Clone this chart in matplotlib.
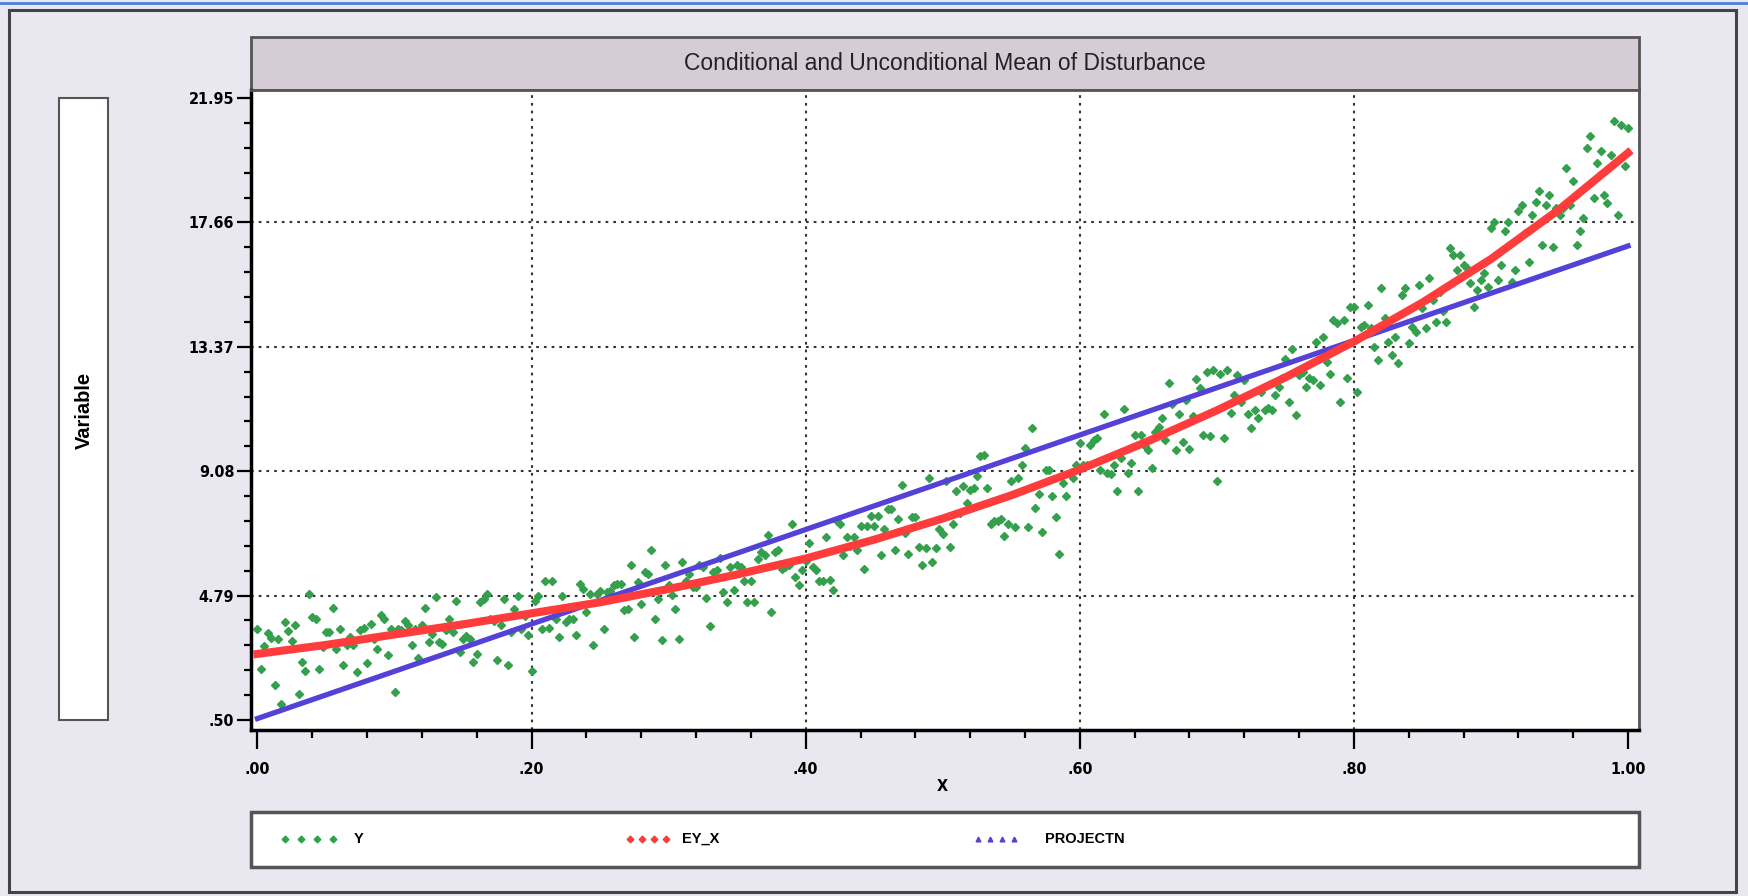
import numpy as np
import matplotlib
matplotlib.use('Agg')
import matplotlib.pyplot as plt
from matplotlib.patches import Rectangle
from matplotlib.lines import Line2D

# conditional mean E(Y|X), read on a 0.05 grid
ey_x_grid = [0.00, 0.05, 0.10, 0.15, 0.20, 0.25, 0.30, 0.35, 0.40, 0.45, 0.50,
             0.55, 0.60, 0.65, 0.70, 0.75, 0.80, 0.85, 0.90, 0.95, 1.00]
ey_x = [2.78, 3.09, 3.45, 3.80, 4.18, 4.56, 5.02, 5.52, 6.07, 6.72, 7.45,
        8.25, 9.14, 10.12, 11.18, 12.32, 13.55, 14.90, 16.40, 18.12, 20.06]

# linear projection
proj_grid = [0.0, 0.1, 0.2, 0.3, 0.4, 0.5, 0.6, 0.7, 0.8, 0.9, 1.0]
projectn = [0.55, 2.18, 3.81, 5.44, 7.07, 8.70, 10.33, 11.96, 13.59, 15.22, 16.85]

# observed Y, one row per 0.05 of X (x step .0025)
y_obs = [
    3.64, 2.26, 3.04, 3.50, 3.33, 1.69, 3.28, 1.05, 3.87, 3.56, 3.22, 3.79, 1.40, 2.50, 2.19, 4.85, 4.04, 3.99, 2.27, 3.01,
    3.53, 3.53, 4.35, 2.96, 3.65, 2.38, 3.07, 3.36, 3.07, 2.15, 3.59, 3.68, 2.46, 3.82, 3.30, 2.96, 4.11, 4.00, 2.73, 3.65,
    1.45, 3.65, 3.59, 3.93, 3.76, 3.07, 3.65, 2.65, 3.76, 4.37, 3.18, 3.45, 4.73, 3.18, 3.13, 3.59, 3.99, 3.53, 4.62, 2.84,
    3.30, 3.39, 3.28, 2.50, 2.79, 4.56, 4.68, 4.85, 4.00, 3.90, 2.56, 3.76, 4.68, 2.38, 3.55, 4.34, 4.79, 3.65, 4.10, 3.42,
    2.20, 4.62, 4.79, 3.65, 5.31, 3.67, 5.31, 4.00, 3.36, 4.79, 3.88, 4.00, 4.00, 3.42, 5.20, 5.02, 4.22, 4.85, 3.07, 4.85,
    4.96, 3.65, 4.90, 4.96, 5.14, 5.20, 5.20, 4.28, 4.33, 5.84, 3.38, 5.26, 4.50, 5.60, 5.54, 6.35, 3.98, 4.68, 3.27, 5.84,
    5.14, 4.80, 4.33, 3.29, 5.96, 5.30, 5.54, 5.08, 5.10, 5.84, 5.78, 4.70, 3.75, 5.60, 5.66, 6.10, 4.91, 4.56, 5.78, 5.00,
    5.85, 5.78, 5.30, 4.58, 5.30, 4.56, 6.07, 6.30, 6.18, 6.88, 4.23, 6.30, 6.36, 5.72, 5.78, 5.84, 7.26, 5.42, 5.14, 5.66,
    5.98, 6.59, 5.78, 5.66, 5.30, 5.30, 6.82, 5.32, 4.98, 7.38, 7.26, 6.20, 6.82, 6.50, 6.82, 6.36, 7.20, 5.72, 7.20, 7.55,
    7.20, 7.55, 6.18, 7.09, 7.78, 7.78, 6.36, 7.43, 8.62, 6.94, 6.24, 7.49, 7.49, 6.45, 5.84, 6.42, 8.85, 5.96, 6.42, 7.10,
    6.91, 8.74, 6.45, 7.25, 8.40, 7.65, 8.57, 8.00, 8.45, 8.51, 8.91, 9.59, 9.65, 8.51, 7.25, 7.37, 7.37, 7.43, 6.85, 7.25,
    8.74, 7.14, 8.86, 9.31, 9.88, 7.14, 10.57, 7.82, 8.30, 6.99, 9.14, 9.14, 8.22, 7.50, 6.22, 8.68, 8.22, 9.00, 8.86, 9.31,
    10.06, 9.31, 9.31, 9.99, 10.17, 10.22, 9.14, 11.06, 9.02, 8.97, 9.31, 8.40, 9.54, 11.23, 9.02, 9.37, 10.34, 8.40, 10.34, 9.94,
    9.82, 9.19, 10.45, 10.62, 10.90, 10.17, 12.14, 11.40, 9.82, 11.06, 10.08, 11.54, 9.85, 11.00, 12.26, 11.94, 10.34, 12.51, 10.28, 12.57,
    8.74, 12.45, 10.22, 12.57, 11.08, 11.71, 12.40, 11.48, 12.23, 11.06, 10.56, 11.20, 10.91, 11.82, 11.20, 11.26, 11.20, 11.71, 12.00, 12.28,
    12.96, 11.47, 13.31, 11.01, 12.39, 12.51, 11.99, 12.28, 12.22, 13.54, 12.05, 13.72, 12.86, 12.45, 14.30, 14.18, 11.47, 14.30, 12.28, 14.76,
    14.76, 11.82, 14.07, 14.13, 14.82, 14.01, 13.37, 12.91, 15.39, 14.36, 13.54, 13.08, 13.72, 12.80, 15.16, 15.39, 13.49, 14.07, 13.89, 15.51,
    14.70, 14.01, 15.74, 14.99, 14.24, 15.27, 14.59, 14.24, 16.77, 16.54, 16.02, 16.54, 16.19, 16.08, 15.56, 14.76, 15.33, 15.68, 15.91, 15.45,
    17.46, 17.69, 15.68, 16.19, 17.35, 17.69, 15.62, 16.02, 18.04, 18.27, 17.29, 16.31, 17.92, 18.38, 18.73, 16.89, 18.27, 18.61, 16.83, 18.15,
    17.92, 18.15, 19.54, 18.27, 19.08, 16.89, 17.35, 17.81, 20.23, 20.63, 18.50, 19.71, 20.11, 18.61, 18.32, 20.00, 21.16, 17.92, 21.04, 19.60, 20.92,
]
x_obs = np.linspace(0.0, 1.0, len(y_obs))

x_ticks = [0.0, 0.2, 0.4, 0.6, 0.8, 1.0]
x_labels = ['.00', '.20', '.40', '.60', '.80', '1.00']
y_ticks = [0.50, 4.79, 9.08, 13.37, 17.66, 21.95]
y_labels = ['.50', '4.79', '9.08', '13.37', '17.66', '21.95']

W, H = 1748, 896
BG = '#e9e7ef'
EDGE = '#555555'
GREEN = '#34a04d'
RED = '#ff3c3c'
BLUE = '#5442d8'
SANS = ['Liberation Sans', 'DejaVu Sans']


def fx(px):
    return px / W


def fy(py):
    return 1 - py / H


def box(x0, y0, x1, y1, fc, lw):
    fig.add_artist(Rectangle((fx(x0), fy(y1)), (x1 - x0) / W, (y1 - y0) / H,
                             transform=fig.transFigure, facecolor=fc,
                             edgecolor=EDGE, lw=lw, zorder=0))


fig = plt.figure(figsize=(W / 100, H / 100), dpi=100, facecolor=BG)

# window frame
fig.add_artist(Line2D([0, 1], [fy(3), fy(3)], transform=fig.transFigure,
                      color='#4a7fd6', lw=2))
fig.add_artist(Rectangle((fx(9), fy(892)), (1736 - 9) / W, (892 - 10) / H,
                         transform=fig.transFigure, fill=False,
                         edgecolor='#444444', lw=2.2))

box(251, 37, 1639, 90, '#d6ccd5', 2.0)     # title band
box(59, 98, 108, 720, 'white', 1.5)         # y label panel
box(251, 812, 1639, 867, 'white', 2.5)      # legend panel

fig.text(fx(945), fy(63), 'Conditional and Unconditional Mean of Disturbance',
         ha='center', va='center', fontsize=16.5, family=SANS, color='#222222')
fig.text(fx(84), fy(410), 'Variable', rotation=90, ha='center', va='center',
         fontsize=14.5, fontweight='bold', family=SANS)
fig.text(fx(942), fy(786), 'X', ha='center', va='center', fontsize=11.5,
         fontweight='bold', family='DejaVu Sans', fontstretch='condensed')

ax = fig.add_axes([fx(251), fy(730), (1639 - 251) / W, (730 - 90) / H])
ax.set_facecolor('white')

ax.plot(x_obs, y_obs, linestyle='none', marker='D', ms=3.6, color=GREEN,
        mec=GREEN, zorder=2)
ax.plot(proj_grid, projectn, color=BLUE, lw=3.8, zorder=3)
ax.plot(ey_x_grid, ey_x, color=RED, lw=5.8, zorder=4)

# dotted reference grid on the interior ticks
for v in x_ticks[1:-1]:
    ax.axvline(v, color='#333333', lw=1.5, ls=(0, (1.3, 2.4)), zorder=1)
for v in y_ticks[1:-1]:
    ax.axhline(v, color='#333333', lw=1.5, ls=(0, (1.3, 2.4)), zorder=1)

ax.set_xlim(-0.0047, 1.008)
ax.set_ylim(0.155, 22.23)
ax.set_xticks(x_ticks)
ax.set_xticklabels(x_labels)
ax.set_xticks(np.arange(0, 1.001, 0.04), minor=True)
ax.set_yticks(y_ticks)
ax.set_yticklabels(y_labels)
ax.set_yticks(np.arange(0.50, 21.96, 0.858), minor=True)

ax.tick_params(axis='x', which='major', direction='out', length=14, width=1.6, pad=9)
ax.tick_params(axis='x', which='minor', direction='out', length=6, width=1.6)
ax.tick_params(axis='y', which='major', direction='out', length=10, width=1.6, pad=2)
ax.tick_params(axis='y', which='minor', direction='out', length=5, width=1.6)
for lab in ax.get_xticklabels() + ax.get_yticklabels():
    lab.set_fontfamily('DejaVu Sans')
    lab.set_fontstretch('condensed')
    lab.set_fontweight('bold')
    lab.set_fontsize(11.5)

for side in ['left', 'bottom']:
    ax.spines[side].set_linewidth(2.5)
    ax.spines[side].set_color('black')
for side in ['top', 'right']:
    ax.spines[side].set_linewidth(2.0)
    ax.spines[side].set_color(EDGE)

# legend glyphs inside the legend panel
lax = fig.add_axes([fx(251), fy(867), (1639 - 251) / W, (867 - 812) / H])
lax.set_xlim(0, 1388)
lax.set_ylim(0, 55)
lax.axis('off')
entries = [
    (34, 16, 'D', GREEN, 'Y', 103),
    (379, 12, 'D', RED, 'EY_X', 431),
    (727, 12, '^', BLUE, 'PROJECTN', 794),
]
for x0, step, mk, col, name, tx in entries:
    lax.plot([x0 + k * step for k in range(4)], [28] * 4, linestyle='none',
             marker=mk, ms=3.4, color=col)
    lax.text(tx, 28, name, ha='left', va='center', fontsize=10.5,
             fontweight='bold', family=SANS)

fig.savefig('out.png', dpi=100, facecolor=BG)
